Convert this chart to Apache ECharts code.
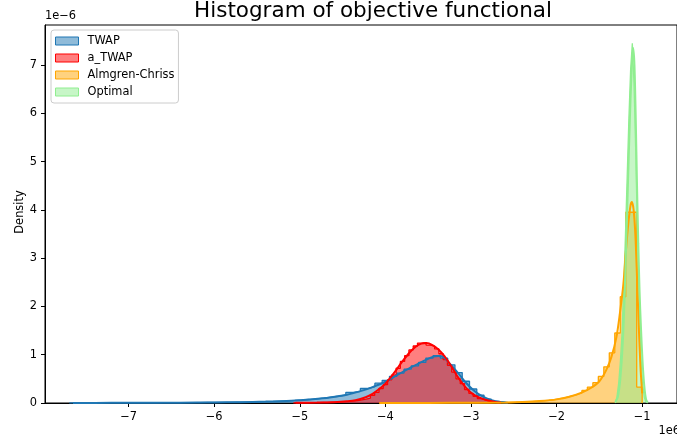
<!DOCTYPE html>
<html><head><meta charset="utf-8">
<script src="https://cdn.jsdelivr.net/npm/echarts@6/dist/echarts.min.js"></script>
<style>html,body{margin:0;padding:0;background:#fff}#c{width:677px;height:443px}</style>
</head><body><div id="c"></div>
<script>
// ---- data (x in units of 1e6, density in units of 1e-6) ----
const seriesNames = ['TWAP', 'a_TWAP', 'Almgren-Chriss', 'Optimal'];
const xTicks = [-7, -6, -5, -4, -3, -2, -1];
const yTicks = [0, 1, 2, 3, 4, 5, 6, 7];

// histogram bins: first left edge, bin width, densities
const twapStart = -7.6925, twapWidth = 0.085;
const twapDensity = [0.003,0.002,0.003,0.002,0.003,0.003,0.004,0.003,0.004,0.005,
  0.004,0.005,0.006,0.006,0.007,0.008,0.008,0.009,0.011,0.012,
  0.013,0.015,0.017,0.019,0.022,0.026,0.03,0.034,0.04,0.046,
  0.053,0.062,0.072,0.085,0.1,0.12,0.14,0.17,0.22,0.24,
  0.30,0.34,0.41,0.47,0.55,0.62,0.70,0.77,0.84,0.93,
  0.98,0.93,0.79,0.63,0.45,0.29,0.16,0.08,0.035,0.012];

const atwapStart = -5.075, atwapWidth = 0.05;
const atwapDensity = [0.005,0.005,0.006,0.007,0.008,0.009,0.011,0.013,0.016,0.019,
  0.023,0.028,0.034,0.042,0.052,0.065,0.08,0.1,
  0.16,0.22,0.3,0.38,0.48,0.58,0.72,0.86,0.98,1.1,
  1.18,1.24,1.25,1.2,1.18,1.12,1.02,0.9,0.78,0.64,
  0.5,0.4,0.28,0.2,0.14,0.09,0.06,0.035,0.02,0.01];

const acStart = -4.072, acWidth = 0.064;
const acDensity = [0.001,0.001,0.001,0.001,0.002,0.002,0.002,0.002,0.003,0.003,
  0.003,0.003,0.004,0.004,0.004,0.005,0.005,0.005,0.006,0.006,0.007,0.007,0.008,
  0.009,0.013,0.018,0.024,0.03,0.036,0.045,0.056,0.07,0.09,
  0.11,0.14,0.17,0.21,0.26,0.33,0.42,0.55,0.75,1.04,
  1.45,2.2,3.95,3.95,0.33];

const optStart = -1.315, optWidth = 0.02;
const optDensity = [0.03,0.12,0.4,0.85,1.45,2.4,3.5,4.7,5.9,6.9,
  7.45,6.6,5.2,3.5,2.1,1.0,0.4,0.12,0.02];

// KDE curves: x positions and densities
const twapKdeX = [-7.65,-7.2,-6.8,-6.4,-6.0,-5.7,-5.4,-5.1,-4.85,-4.65,-4.45,-4.3,-4.15,-4.0,-3.88,-3.75,-3.62,-3.52,-3.44,-3.38,-3.32,-3.24,-3.15,-3.06,-2.96,-2.86,-2.76,-2.66,-2.57];
const twapKdeY = [0.002,0.003,0.004,0.007,0.012,0.018,0.029,0.048,0.08,0.115,0.17,0.24,0.33,0.44,0.56,0.69,0.81,0.9,0.96,0.975,0.95,0.8,0.62,0.42,0.25,0.13,0.06,0.02,0.006];

const atwapKdeX = [-5.05,-4.8,-4.6,-4.45,-4.35,-4.23,-4.15,-4.08,-4.0,-3.93,-3.87,-3.81,-3.73,-3.65,-3.58,-3.52,-3.45,-3.38,-3.31,-3.23,-3.15,-3.07,-2.99,-2.9,-2.8,-2.7,-2.65];
const atwapKdeY = [0.004,0.009,0.018,0.034,0.055,0.12,0.19,0.28,0.4,0.55,0.69,0.84,1.02,1.16,1.23,1.24,1.2,1.11,0.97,0.76,0.53,0.34,0.2,0.11,0.05,0.015,0.008];

const acKdeX = [-4.07,-3.5,-3.0,-2.6,-2.4,-2.2,-2.0,-1.85,-1.7,-1.6,-1.5,-1.42,-1.36,-1.3,-1.26,-1.22,-1.19,-1.16,-1.135,-1.12,-1.1,-1.08,-1.06,-1.04,-1.02,-1.0];
const acKdeY = [0.001,0.002,0.004,0.009,0.02,0.04,0.075,0.13,0.22,0.31,0.45,0.68,0.95,1.37,1.86,2.45,3.15,3.75,4.1,4.16,4.0,3.5,2.6,1.6,0.75,0.2];

const optKdeX = [-1.315,-1.285,-1.255,-1.225,-1.205,-1.185,-1.165,-1.145,-1.125,-1.105,-1.09,-1.075,-1.06,-1.045,-1.03,-1.015,-0.995,-0.975,-0.955,-0.935];
const optKdeY = [0.02,0.12,0.5,1.3,2.2,3.4,4.6,5.8,6.8,7.35,7.0,5.9,4.5,3.3,2.3,1.6,0.85,0.35,0.08,0.01];

const lineColors = ['#1f77b4', '#ff0000', '#ffa500', '#90ee90'];
const fillColors = ['rgba(31,119,180,0.5)', 'rgba(255,0,0,0.5)', 'rgba(255,165,0,0.5)', 'rgba(144,238,144,0.5)'];

// ---- build ----
function histPoints(start, width, dens) {
  const pts = [[start, 0]];
  dens.forEach((d, i) => pts.push([start + width * i, d]));
  pts.push([start + width * dens.length, 0]);
  return pts;
}
function kdePoints(xs, ys) { return xs.map((x, i) => [x, ys[i]]); }

const hists = [
  histPoints(twapStart, twapWidth, twapDensity),
  histPoints(atwapStart, atwapWidth, atwapDensity),
  histPoints(acStart, acWidth, acDensity),
  histPoints(optStart, optWidth, optDensity)
];
const kdes = [
  kdePoints(twapKdeX, twapKdeY),
  kdePoints(atwapKdeX, atwapKdeY),
  kdePoints(acKdeX, acKdeY),
  kdePoints(optKdeX, optKdeY)
];

const FONT = 'DejaVu Sans';
const series = [];
seriesNames.forEach((n, i) => {
  series.push({
    name: n, type: 'line', step: 'end', data: hists[i], symbol: 'none', z: 2,
    lineStyle: { color: lineColors[i], width: 1.3 },
    itemStyle: { color: lineColors[i] },
    areaStyle: { color: fillColors[i], opacity: 1 },
    silent: true
  });
});
seriesNames.forEach((n, i) => {
  series.push({
    name: n + ' kde', type: 'line', data: kdes[i], symbol: 'none', smooth: 0.3, z: 3,
    lineStyle: { color: lineColors[i], width: 2 }, silent: true
  });
});

const minus = v => String(v).replace('-', '\u2212');
const chart = echarts.init(document.getElementById('c'), null, { renderer: 'canvas' });
chart.setOption({
  animation: false,
  backgroundColor: '#fff',
  textStyle: { fontFamily: FONT },
  grid: { left: 45, top: 25, width: 635, height: 378, show: true, borderColor: '#000', borderWidth: 1, containLabel: false },
  xAxis: {
    type: 'value', min: -7.977, max: -0.593,
    axisLine: { show: true, onZero: false, lineStyle: { color: '#000', width: 1 } },
    axisTick: { show: true, length: 4, lineStyle: { color: '#000' }, customValues: xTicks },
    axisLabel: { color: '#000', fontSize: 11.4, fontFamily: FONT, margin: 9, customValues: xTicks, formatter: minus },
    splitLine: { show: false }
  },
  yAxis: {
    type: 'value', min: 0, max: 7.828,
    axisLine: { show: true, lineStyle: { color: '#000', width: 1 } },
    axisTick: { show: true, length: 4, lineStyle: { color: '#000' }, customValues: yTicks },
    axisLabel: { color: '#000', fontSize: 11.4, fontFamily: FONT, margin: 8, customValues: yTicks, formatter: minus },
    splitLine: { show: false }
  },
  legend: {
    orient: 'vertical', left: 51, top: 30,
    itemWidth: 23, itemHeight: 8, itemGap: 3,
    padding: [4, 4, 4, 4],
    backgroundColor: 'rgba(255,255,255,0.8)', borderColor: '#cccccc', borderWidth: 1, borderRadius: 3,
    textStyle: { color: '#000', fontSize: 11.4, fontFamily: FONT, lineHeight: 14, padding: [0, 0, 0, 4] },
    selectedMode: false,
    data: seriesNames.map((n, i) => ({
      name: n, icon: 'rect',
      itemStyle: { color: fillColors[i], borderColor: lineColors[i], borderWidth: 1 }
    }))
  },
  graphic: [
    { type: 'text', x: 373, y: 11, style: { text: 'Histogram of objective functional', font: '21.5px "DejaVu Sans"', fill: '#000', align: 'center', verticalAlign: 'middle' } },
    { type: 'text', x: 45, y: 16, style: { text: '1e\u22126', font: '11.4px "DejaVu Sans"', fill: '#000', align: 'left', verticalAlign: 'middle' } },
    { type: 'text', x: 680, y: 431, style: { text: '1e6', font: '11.4px "DejaVu Sans"', fill: '#000', align: 'right', verticalAlign: 'middle' } },
    { type: 'text', x: 20, y: 212, rotation: Math.PI / 2, style: { text: 'Density', font: '11.4px "DejaVu Sans"', fill: '#000', align: 'center', verticalAlign: 'middle' } }
  ],
  series: series
});
</script>
</body></html>
